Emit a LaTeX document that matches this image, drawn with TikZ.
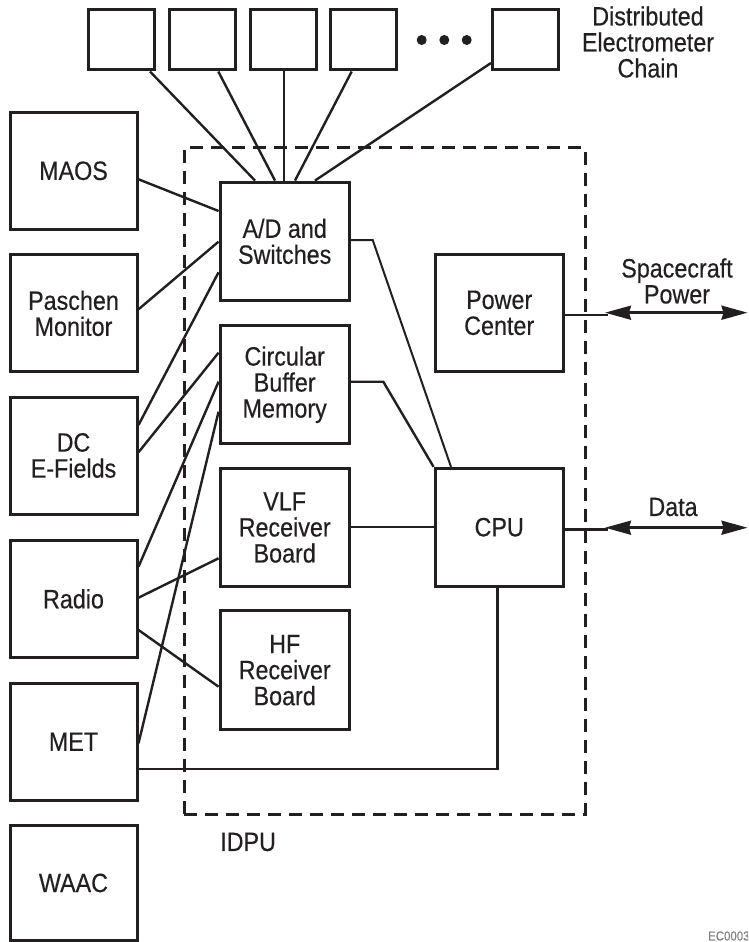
\documentclass[tikz,border=0pt]{standalone}
\usepackage{fontspec}
\setmainfont{Liberation Sans}[FakeStretch=0.88,FakeBold=0.35]
\usetikzlibrary{arrows.meta}
\definecolor{ink}{HTML}{231F20}
\newcommand{\diagfont}{\fontsize{26.5}{26}\selectfont}
\begin{document}
\begin{tikzpicture}[x=1pt,y=-1pt,
  every node/.style={text=ink},
  boxbase/.style={draw=ink, line width=3pt, inner sep=0pt, align=center, font=\diagfont},
  lbox/.style={boxbase, minimum width=127pt, minimum height=117pt},
  mbox/.style={boxbase, minimum width=129.3pt, minimum height=118.5pt},
  rbox/.style={boxbase, minimum width=128.3pt, minimum height=117.7pt},
  tbox/.style={boxbase, minimum width=66pt, minimum height=60pt},
  dotnode/.style={circle, fill=ink, inner sep=0pt, minimum size=10pt},
  conn/.style={draw=ink, line width=2.4pt},
  thinconn/.style={draw=ink, line width=2pt},
  dbl/.style={draw=ink, line width=2.6pt, {Stealth[length=26pt,width=14pt,inset=2pt]}-{Stealth[length=26pt,width=14pt,inset=2pt]}},
  lbl/.style={align=center, font=\diagfont, inner sep=0pt},
  idpubox/.style={draw=ink, line width=3pt, dash pattern=on 13pt off 8pt, inner sep=0pt}
]
\useasboundingbox (0,0) rectangle (748,942);
\clip (0,0) rectangle (748,942);

% IDPU dashed enclosure
\node[idpubox, minimum width=400.7pt, minimum height=666.3pt] (idpu) at (384.65,480.85) {};

% top electrometer chain
\node[tbox] (e1) at (121.7,40) {};
\node[tbox] (e2) at (202,40) {};
\node[tbox] (e3) at (283.5,40) {};
\node[tbox] (e4) at (363,40) {};
\node[tbox] (e5) at (525.5,40) {};
\node[dotnode] (d1) at (421.7,40) {};
\node[dotnode] (d2) at (444.3,40) {};
\node[dotnode] (d3) at (466.7,40) {};

% left column
\node[lbox] (maos) at (73.5,170.8) {MAOS};
\node[lbox] (pas) at (73.5,313.3) {Paschen\\Monitor};
\node[lbox] (dc) at (73.5,455.5) {DC\\E-Fields};
\node[lbox] (radio) at (73.5,598.8) {Radio};
\node[lbox] (met) at (73.5,741.7) {MET};
\node[lbox, minimum height=115pt] (waac) at (73.5,883) {WAAC};

% middle column
\node[mbox] (ad) at (284.7,241.3) {A/D and\\Switches};
\node[mbox] (cbm) at (284.7,384.7) {Circular\\Buffer\\Memory};
\node[mbox] (vlf) at (284.7,527.5) {VLF\\Receiver\\Board};
\node[mbox] (hf) at (284.7,670.2) {HF\\Receiver\\Board};

% right column
\node[rbox] (pwr) at (499.2,312.9) {Power\\Center};
\node[rbox] (cpu) at (499.2,527.2) {CPU};

% labels
\node[lbl] (dec) at (648,42) {Distributed\\Electrometer\\Chain};
\node[lbl] (scp) at (677,281) {Spacecraft\\Power};
\node[lbl] (datalbl) at (673,507) {Data};
\node[lbl, anchor=west] (idpulbl) at (220,842) {IDPU};
\node[font=\fontsize{13}{13}\selectfont, text=gray, anchor=west, inner sep=0pt] (ec) at (708,936) {EC0003};

% electrometer chain to A/D
\draw[conn] (150,0 |- e1.south) -- (255,0 |- ad.north);
\draw[conn] (218.3,0 |- e2.south) -- (275,0 |- ad.north);
\draw[conn] (284,0 |- e3.south) -- (284,0 |- ad.north);
\draw[conn] (351.7,0 |- e4.south) -- (295,0 |- ad.north);
\draw[conn] (e5.west |- 0,63) -- (315,0 |- ad.north);

% instruments to boards
\draw[conn] (maos.east |- 0,179.3) -- (ad.west |- 0,211);
\draw[conn] (pas.east |- 0,309.3) -- (ad.west |- 0,241.7);
\draw[conn] (dc.east |- 0,425) -- (ad.west |- 0,272.3);
\draw[conn] (dc.east |- 0,452.3) -- (cbm.west |- 0,352.7);
\draw[conn] (radio.east |- 0,566.7) -- (cbm.west |- 0,381.7);
\draw[conn] (met.east |- 0,743.3) -- (cbm.west |- 0,411.7);
\draw[conn] (radio.east |- 0,597.7) -- (vlf.west |- 0,558.3);
\draw[conn] (radio.east |- 0,630) -- (hf.west |- 0,686.7);

% boards to CPU
\draw[thinconn] (ad.east |- 0,240) -- (372.7,240) -- (451,0 |- cpu.north);
\draw[conn] (cbm.east |- 0,381.7) -- (383.3,381.7) -- (cpu.north west);
\draw[conn] (vlf.east |- 0,526.7) -- (cpu.west |- 0,526.7);
\draw[conn] (497.3,0 |- cpu.south) -- (497.3,769) -- (met.east |- 0,769);

% external interfaces
\coordinate (pwrL) at (605,312.7);
\coordinate (pwrR) at (747.5,312.7);
\coordinate (pwrJ) at (608,315);
\coordinate (datL) at (605,527.7);
\coordinate (datR) at (747.5,527.7);
\coordinate (datJ) at (608,529.3);
\draw[conn] (pwr.east |- pwrJ) -- (pwrJ);
\draw[dbl] (pwrL) -- (pwrR);
\draw[conn] (cpu.east |- datJ) -- (datJ);
\draw[dbl] (datL) -- (datR);
\end{tikzpicture}
\end{document}
